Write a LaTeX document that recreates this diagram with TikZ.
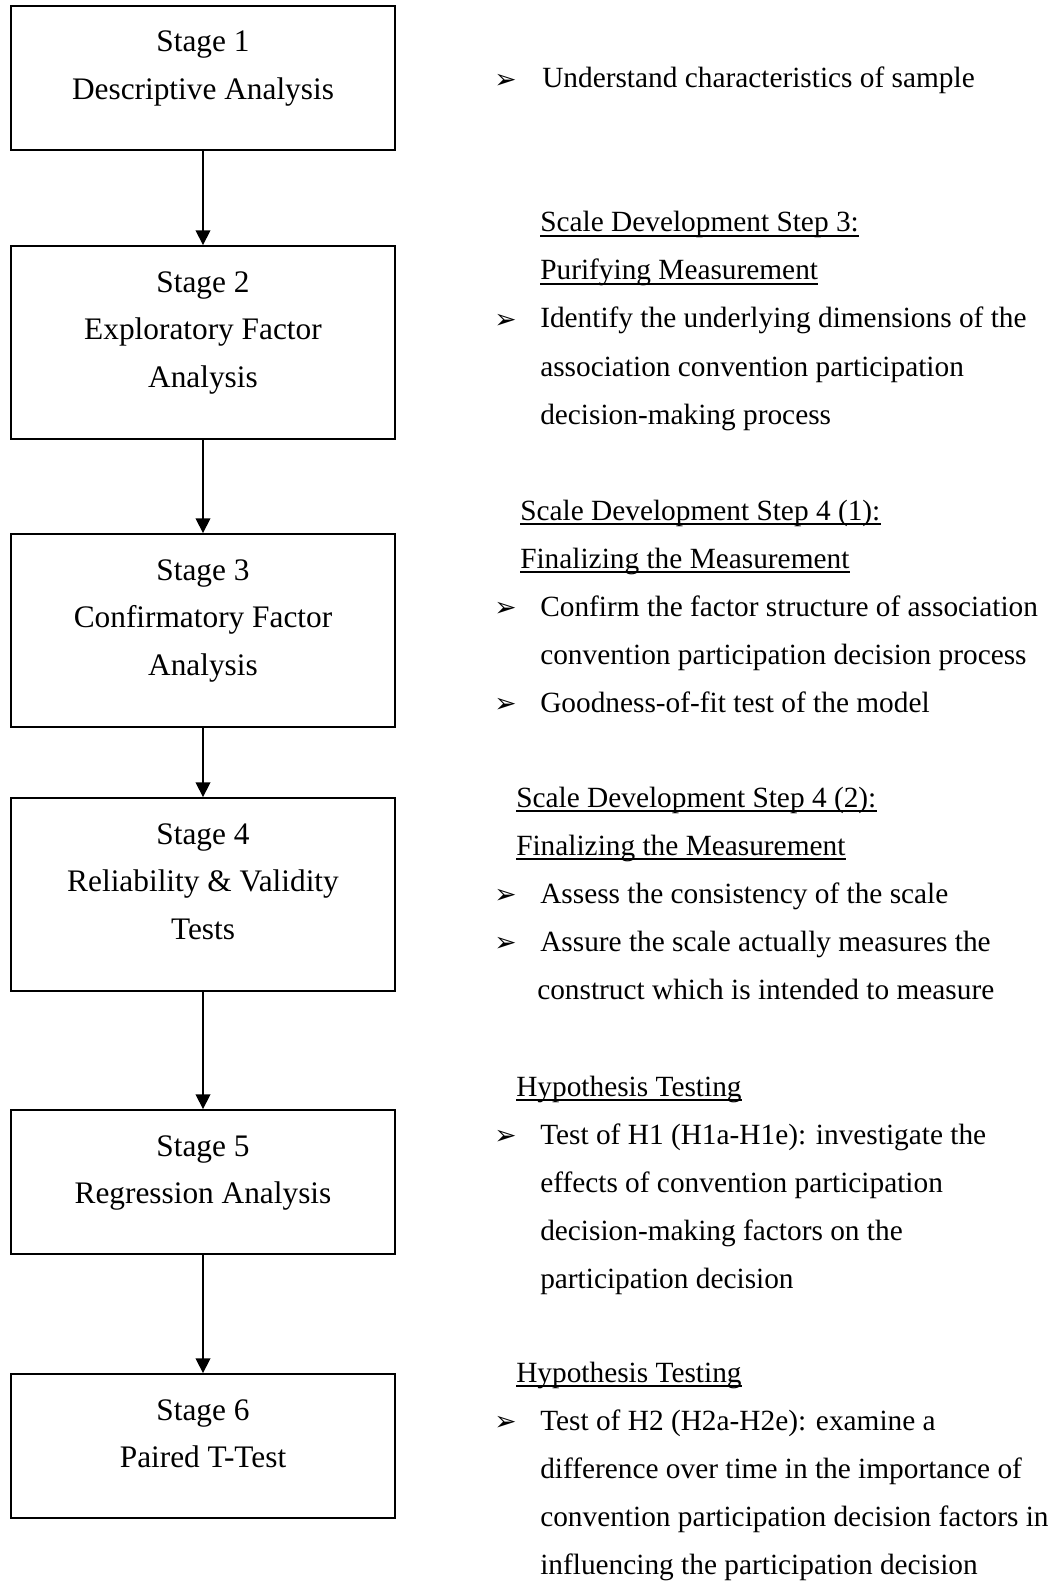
\documentclass[tikz,border=0pt]{standalone}
\usepackage{fontspec}
\setmainfont{Liberation Serif}
\newfontfamily\dingfont{DejaVu Sans}
\usetikzlibrary{arrows.meta,calc}

\begin{document}
\begin{tikzpicture}[x=0.75pt,y=-0.75pt,
  stagebox/.style={draw, line width=1.4pt, minimum width=288pt, inner sep=0pt},
  stagetext/.style={anchor=base, inner sep=0pt, font=\fontsize{23.5pt}{35pt}\selectfont},
  notetext/.style={anchor=base west, inner sep=0pt, font=\fontsize{22pt}{36pt}\selectfont},
  bulletmark/.style={anchor=base west, inner sep=0pt, yshift=-0.5pt, font=\dingfont\fontsize{20pt}{20pt}\selectfont},
  uline/.style={line width=1.1pt},
  flow/.style={-{Triangle[length=11pt,width=11pt]}, line width=1.2pt}]

\fill[white] (0,0) rectangle (1057,1583);
\useasboundingbox (0,0) rectangle (1057,1583);

% stage boxes
\node[stagebox, minimum height=108pt]    (b1) at (203,78) {};
\node[stagebox, minimum height=144.75pt] (b2) at (203,342.5) {};
\node[stagebox, minimum height=144.75pt] (b3) at (203,630.5) {};
\node[stagebox, minimum height=144.75pt] (b4) at (203,894.5) {};
\node[stagebox, minimum height=108pt]    (b5) at (203,1182) {};
\node[stagebox, minimum height=108pt]    (b6) at (203,1446) {};

% stage labels
\node[stagetext] (t1a) at (203,52)    {Stage 1};
\node[stagetext] (t1b) at (203,99.5)  {Descriptive Analysis};
\node[stagetext] (t2a) at (203,292)   {Stage 2};
\node[stagetext] (t2b) at (203,339.5) {Exploratory Factor};
\node[stagetext] (t2c) at (203,387)   {Analysis};
\node[stagetext] (t3a) at (203,580)   {Stage 3};
\node[stagetext] (t3b) at (203,627.5) {Confirmatory Factor};
\node[stagetext] (t3c) at (203,675)   {Analysis};
\node[stagetext] (t4a) at (203,844)   {Stage 4};
\node[stagetext] (t4b) at (203,891.5) {Reliability \& Validity};
\node[stagetext] (t4c) at (203,939)   {Tests};
\node[stagetext] (t5a) at (203,1156)  {Stage 5};
\node[stagetext] (t5b) at (203,1203.5){Regression Analysis};
\node[stagetext] (t6a) at (203,1420)  {Stage 6};
\node[stagetext] (t6b) at (203,1467.5){Paired T-Test};

% flow between stages
\draw[flow] (b1) -- (b2);
\draw[flow] (b2) -- (b3);
\draw[flow] (b3) -- (b4);
\draw[flow] (b4) -- (b5);
\draw[flow] (b5) -- (b6);

% notes: stage 1
\node[bulletmark] (m0) at (494,88) {➢};
\node[notetext] (n0) at (542,88) {Understand characteristics of sample};

% notes: stage 2
\node[notetext] (h1a) at (540,232) {Scale Development Step 3:};
\node[notetext] (h1b) at (540,280) {Purifying Measurement};
\node[bulletmark] (m1) at (494,328) {➢};
\node[notetext] (n1a) at (540,328) {Identify the underlying dimensions of the};
\node[notetext] (n1b) at (540,376) {association convention participation};
\node[notetext] (n1c) at (540,424) {decision-making process};

% notes: stage 3
\node[notetext] (h2a) at (520,520) {Scale Development Step 4 (1):};
\node[notetext] (h2b) at (520,568) {Finalizing the Measurement};
\node[bulletmark] (m2a) at (494,616) {➢};
\node[notetext] (n2a) at (540,616) {Confirm the factor structure of association};
\node[notetext] (n2b) at (540,664) {convention participation decision process};
\node[bulletmark] (m2b) at (494,712) {➢};
\node[notetext] (n2c) at (540,712) {Goodness-of-fit test of the model};

% notes: stage 4
\node[notetext] (h3a) at (516,807) {Scale Development Step 4 (2):};
\node[notetext] (h3b) at (516,855) {Finalizing the Measurement};
\node[bulletmark] (m3a) at (494,903) {➢};
\node[notetext] (n3a) at (540,903) {Assess the consistency of the scale};
\node[bulletmark] (m3b) at (494,951) {➢};
\node[notetext] (n3b) at (540,951) {Assure the scale actually measures the};
\node[notetext] (n3c) at (537,999) {construct which is intended to measure};

% notes: stage 5
\node[notetext] (h4a) at (516,1096) {Hypothesis Testing};
\node[bulletmark] (m4) at (494,1144) {➢};
\node[notetext] (n4a) at (540,1144) {Test of H1 (H1a-H1e): investigate the};
\node[notetext] (n4b) at (540,1192) {effects of convention participation};
\node[notetext] (n4c) at (540,1240) {decision-making factors on the};
\node[notetext] (n4d) at (540,1288) {participation decision};

% notes: stage 6
\node[notetext] (h5a) at (516,1382) {Hypothesis Testing};
\node[bulletmark] (m5) at (494,1430) {➢};
\node[notetext] (n5a) at (540,1430) {Test of H2 (H2a-H2e): examine a};
\node[notetext] (n5b) at (540,1478) {difference over time in the importance of};
\node[notetext] (n5c) at (540,1526) {convention participation decision factors in};
\node[notetext] (n5d) at (540,1574) {influencing the participation decision};

% underlined headings
\foreach \h in {h1a,h1b,h2a,h2b,h3a,h3b,h4a,h5a}
  \draw[uline] ($(\h.base west)+(0,4)$) -- ($(\h.base east)+(0,4)$);

\end{tikzpicture}
\end{document}
